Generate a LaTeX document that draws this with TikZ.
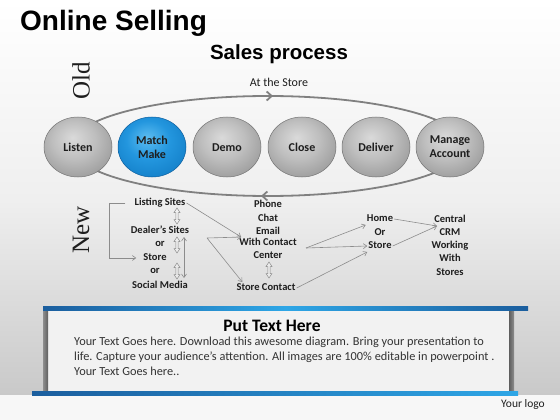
\documentclass[tikz,border=0pt]{standalone}
\usepackage{fontspec}
\setmainfont{Carlito}
\newfontfamily\arialfont{Liberation Sans}
\newfontfamily\timesfont{Liberation Serif}
\usetikzlibrary{shapes.geometric,arrows.meta}
\definecolor{txt}{HTML}{1E1E1E}
\definecolor{conn}{HTML}{8C8C8C}
\definecolor{ringc}{HTML}{747474}
\definecolor{ringline}{HTML}{808080}
\definecolor{gA}{HTML}{DADADA}
\definecolor{gB}{HTML}{BEBEBE}
\definecolor{gC}{HTML}{9A9A9A}
\definecolor{gD}{HTML}{707070}
\definecolor{bA}{HTML}{5CBCF0}
\definecolor{bB}{HTML}{2396DE}
\definecolor{bC}{HTML}{137FC8}
\definecolor{bD}{HTML}{0C5E9E}
\definecolor{barD}{HTML}{1B5E9E}
\definecolor{barL}{HTML}{2EA6E6}
\definecolor{edgeD}{HTML}{5E5E5E}
\definecolor{edgeL}{HTML}{8E8E8E}
\definecolor{panel}{HTML}{F2F2F2}
\definecolor{bgmid}{HTML}{EFEFEF}
\definecolor{bgbot}{HTML}{C9C9C9}
\definecolor{bodytxt}{HTML}{333333}
\pgfdeclareradialshading{grayball}{\pgfpoint{-4bp}{8bp}}{color(0bp)=(gA); color(16bp)=(gB); color(32bp)=(gC); color(46bp)=(gD); color(60bp)=(gD)}
\pgfdeclareradialshading{blueball}{\pgfpoint{-4bp}{8bp}}{color(0bp)=(bA); color(16bp)=(bB); color(32bp)=(bC); color(46bp)=(bD); color(60bp)=(bD)}
\tikzset{
  ball/.style={shape=ellipse, minimum width=68pt, minimum height=60pt, inner sep=0pt,
    draw=ringc, line width=0.5pt, shading=grayball, text=txt,
    font=\bfseries\fontsize{12}{14}\selectfont, align=center},
  blueballst/.style={ball, shading=blueball, draw=bD},
  lab/.style={text=txt, font=\bfseries\fontsize{10.5}{13}\selectfont, inner sep=1pt,
    text height=7.5pt, text depth=2pt},
  link/.style={draw=conn, line width=0.6pt, -{Straight Barb[length=3.5pt,width=5pt]}},
  dlink/.style={draw=conn, line width=0.6pt, {Straight Barb[length=3.5pt,width=5pt]}-{Straight Barb[length=3.5pt,width=5pt]}},
  dblarrow/.pic={\draw[draw=conn, line width=0.5pt, fill=white, fill opacity=0.3]
    (0,-8) -- (3,-3.5) -- (1.1,-3.5) -- (1.1,3.5) -- (3,3.5) -- (0,8) -- (-3,3.5)
    -- (-1.1,3.5) -- (-1.1,-3.5) -- (-3,-3.5) -- cycle;}
}
\begin{document}
\begin{tikzpicture}[x=1pt,y=-1pt]
\useasboundingbox (0,0) rectangle (560,420);
% background
\fill[white] (0,0) rectangle (560,420);
\shade[top color=white, bottom color=bgmid] (0,0) rectangle (560,200);
\shade[top color=bgmid, bottom color=bgbot] (0,200) rectangle (560,395);
\fill[white!97!black] (0,395) rectangle (560,420);

% titles
\node[anchor=base west, font=\arialfont\bfseries\fontsize{28}{30}\selectfont, inner sep=0pt] (title) at (20,31) {Online Selling};
\node[anchor=base, font=\arialfont\bfseries\fontsize{20.5}{22}\selectfont, inner sep=0pt] (sales) at (279,60) {Sales process};
\node[font=\fontsize{12}{13}\selectfont, text=txt] (atstore) at (279,82) {At the Store};
\node[rotate=90, font=\timesfont\fontsize{25}{25}\selectfont, inner sep=0pt, text=txt] (old) at (81,81) {Old};
\node[rotate=90, font=\timesfont\fontsize{25}{25}\selectfont, inner sep=0pt, text=txt] (new) at (81,230) {New};

% cycle ring
\draw[draw=ringline, line width=1.8pt] (268,146) ellipse [x radius=197, y radius=50];
\coordinate (ta) at (258,96);
\coordinate (tb) at (273,96);
\coordinate (ba) at (276,196);
\coordinate (bb) at (261,196);
\draw[draw=ringline, line width=1.8pt, -{Straight Barb[length=5pt,width=9pt]}] (ta) -- (tb);
\draw[draw=ringline, line width=1.8pt, -{Straight Barb[length=5pt,width=9pt]}] (ba) -- (bb);

% balls
\node[ball] (listen) at (78,147) {Listen};
\node[blueballst] (match) at (152,147) {Match\\Make};
\node[ball, text height=8.5pt, text depth=0pt] (demo) at (227,147) {Demo};
\node[ball] (close) at (302,147) {Close};
\node[ball] (deliver) at (376,147) {Deliver};
\node[ball] (manage) at (450,147) {Manage\\Account};

% New: left column
\node[lab] (listing) at (160,203) {Listing Sites};
\node[lab] (dealer) at (160,231) {Dealer’s Sites};
\node[lab] (or1) at (160,244) {or};
\node[lab] (store1) at (155,258) {Store};
\node[lab] (or2) at (155,271) {or};
\node[lab] (social) at (160,286) {Social Media};

% centre column
\node[lab] (phone) at (268,205) {Phone};
\node[lab] (chat) at (268,219) {Chat};
\node[lab] (email) at (268,232) {Email};
\node[lab] (withcc) at (268,243) {With Contact};
\node[lab] (centerl) at (268,256) {Center};
\node[lab] (storec) at (266,288) {Store Contact};

% right columns
\node[lab] (home) at (380,219) {Home};
\node[lab] (orr) at (380,233) {Or};
\node[lab] (rstore) at (380,246) {Store};
\node[text=txt, font=\bfseries\fontsize{10.5}{13.3}\selectfont, align=center, inner sep=1pt] (crm) at (450,245) {Central\\CRM\\Working\\With\\Stores};

% small double arrows
\pic at (177,216) {dblarrow};
\pic at (177,245) {dblarrow};
\pic at (177,271) {dblarrow};
\pic at (269,270) {dblarrow};
\coordinate (la) at (184,237);
\coordinate (lb) at (184,278);
\draw[dlink] (la) -- (lb);

% connectors
\coordinate (dsplit) at (207,238);
\coordinate (wsplit) at (306,248);
\coordinate (crmin) at (437,226);
\draw[link, shorten <=8pt, shorten >=6pt] (listing.west) -- ++(-24,0) |- (store1.west);
\draw[link] (listing.east) -- ([xshift=3pt]withcc.north west);
\draw[link] (dsplit) -- ([xshift=3pt]withcc.north west);
\draw[link] (dsplit) -- ([xshift=7pt]storec.north west);
\draw[link] (storec.east) -- (rstore.south west);
\draw[link] (wsplit) -- (home.south west);
\draw[link] (wsplit) -- (rstore.west);
\draw[link] (home.east) -- (crmin);
\draw[link] (rstore.east) -- (crmin);

% bottom panel
\fill[panel] (48,309) rectangle (510,392);
\shade[left color=edgeL, right color=edgeD] (43,308) rectangle (48,393);
\shade[left color=edgeD, right color=edgeL] (509,308) rectangle (514,393);
\shade[left color=barD, right color=barD, middle color=barL] (43,306) rectangle (528,310);
\shade[left color=barD, right color=barL] (32,391) rectangle (518,395);
\node[font=\bfseries\fontsize{17.5}{20}\selectfont, text=black] (puttext) at (272,326) {Put Text Here};
\node[anchor=north west, align=left, font=\fontsize{12.3}{15}\selectfont, text=bodytxt, inner sep=0pt] (body) at (74,337)
  {Your Text Goes here. Download this awesome diagram. Bring your presentation to\\
   life. Capture your audience’s attention. All images are 100\% editable in powerpoint .\\
   Your Text Goes here..};
\node[font=\fontsize{11.5}{13}\selectfont, text=txt] (logo) at (523,404) {Your logo};
\end{tikzpicture}
\end{document}
